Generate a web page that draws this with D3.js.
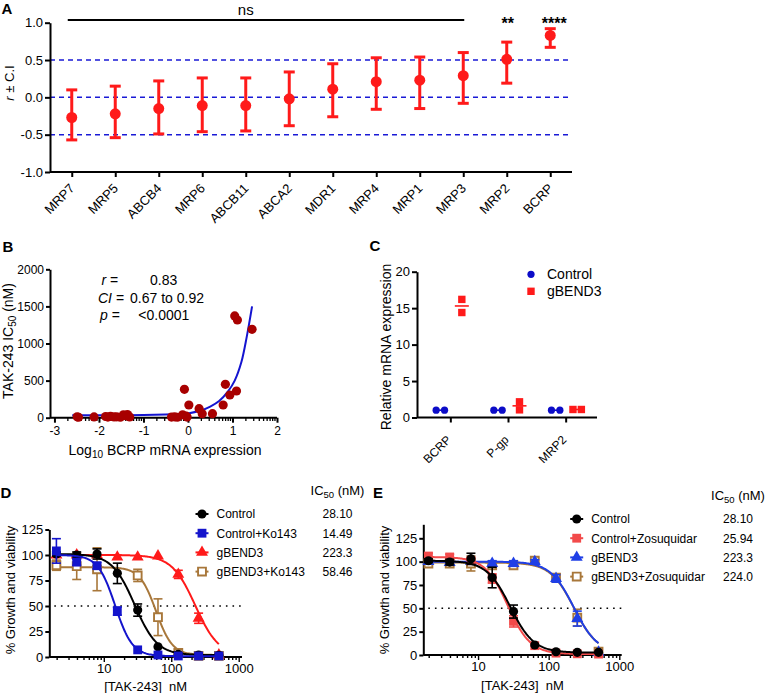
<!DOCTYPE html>
<html><head><meta charset="utf-8">
<script src="https://cdn.jsdelivr.net/npm/d3@7"></script>
<style>
body{margin:0;background:#fff}
svg{display:block}
text{font-family:Arial,"Liberation Sans",Helvetica,sans-serif}
</style>
</head><body>
<svg id="c" width="766" height="693"></svg>
<script>
// ================= DATA =================
// Panel A
const transporters = ["MRP7","MRP5","ABCB4","MRP6","ABCB11","ABCA2","MDR1","MRP4","MRP1","MRP3","MRP2","BCRP"];
const rValues = [-0.27,-0.22,-0.15,-0.11,-0.11,-0.02,0.11,0.21,0.23,0.29,0.51,0.83];
const ciLow   = [-0.57,-0.54,-0.49,-0.46,-0.45,-0.38,-0.26,-0.16,-0.15,-0.08,0.19,0.67];
const ciHigh  = [0.10,0.15,0.22,0.26,0.26,0.34,0.45,0.53,0.54,0.60,0.74,0.92];
const aTicks = [-1.0,-0.5,0.0,0.5,1.0];
const refLines = [-0.5,0.0,0.5];
const sigGenes = ["MRP2","BCRP"];
const sigText = ["**","****"];
const nsSpan = ["MRP7","MRP3"];

// Panel B
const bcrpLog10 = [-2.49,-2.46,-2.11,-1.85,-1.80,-1.74,-1.66,-1.60,-1.52,-1.45,-1.40,-1.36,-1.31,
  -0.37,-0.30,-0.24,-0.12,-0.08,-0.04,-0.02,0.02,0.25,0.32,0.55,0.79,0.84,0.94,1.05,1.09,1.11,1.44];
const tak243IC50 = [12,6,10,16,8,18,10,12,6,40,28,42,10,
  8,12,6,40,383,20,8,171,122,54,54,171,450,306,1371,360,1317,1191];
const fitLog10 = [-2.6,-2.0,-1.5,-1.0,-0.5,0.0,0.3,0.5,0.7,0.9,1.05,1.2,1.32,1.44];
const fitIC50  = [32,33,34,36,44,58,100,150,225,355,500,750,1090,1500];
const bYTicks = [0,500,1000,1500,2000];
const bXTicks = [-3,-2,-1,0,1,2];
const statNames = ["r =","CI =","p ="];
const statValues = ["0.83","0.67 to 0.92","<0.0001"];

// Panel C
const genes = ["BCRP","P-gp","MRP2"];
const cSeries = ["Control","gBEND3"];
const controlRep1 = [1.0,1.0,1.0];
const controlRep2 = [1.0,1.0,1.0];
const gbendRep1 = [16.2,2.15,1.1];
const gbendRep2 = [14.4,1.05,1.1];
const cYTicks = [0,5,10,15,20];

// Panels D & E  (concentration in nM, % growth and viability)
const conc = [1.95,3.9,7.8,15.6,31.25,62.5,125,250,500];
const pctTicks = [0,25,50,75,100,125];
const concTicks = [10,100,1000];

const dNames = ["Control","Control+Ko143","gBEND3","gBEND3+Ko143"];
const dIC50Text = ["28.10","14.49","223.3","58.46"];
const dControl      = [101,100,101,82,46,10,2.6,2,1.7];
const dControlErr   = [2,3,5,10,6,1,0.5,0.5,0.5];
const dKo143        = [104,93,89.5,45,7,2,1,1,1];
const dKo143Err     = [12,3,3,4,1,0.5,0.5,0.5,0.5];
const dGbend3       = [100,100,100,98,98,99,81,38,2];
const dGbend3Err    = [0.5,0.5,0.5,2,1,1,4,5,1];
const dGbendKo      = [90,89,86,null,80,39,4,1,1];
const dGbendKoErr   = [5,13,21,null,6,18,1,0.5,0.5];
// fitted 4-parameter curves: [top, bottom, IC50, hill]
const dFitTop    = [101,100,100,88];
const dFitBottom = [1.8,0.8,1,2];
const dFitIC50   = [28.10,14.49,223.3,58.46];
const dFitHill   = [2.6,3.4,2.5,3.6];

const eNames = ["Control","Control+Zosuquidar","gBEND3","gBEND3+Zosuquidar"];
const eIC50Text = ["28.10","25.94","223.3","224.0"];
const eControl      = [101,99.5,103,83,46.5,10.7,3.5,2.9,2.9];
const eControlErr   = [2,3,6,11,7,1,0.5,0.5,0.5];
const eZos          = [106,105,101,82,36,10,2,1.3,1];
const eZosErr       = [3,3,3,5,6,1,0.5,0.5,0.5];
const eGbend3       = [100,99,100,98,98,100,82,39,3];
const eGbend3Err    = [1,1,1,3,3,2,4,8,1];
const eGbendZos     = [98,98,98,96,96,101,83,40,3.6];
const eGbendZosErr  = [3,3,8,3,3,3,4,9,1];
const eFitTop    = [101,105,100,99];
const eFitBottom = [2.5,1,2,2];
const eFitIC50   = [28.10,25.94,223.3,224.0];
const eFitHill   = [2.6,2.7,2.6,2.6];

// ================= STYLES =================
const FONT = 'Arial, "Liberation Sans", Helvetica, sans-serif';
const RED = "#ff1a1a";
const dColors = ["#000000","#1414cc","#ff1a1a","#a8773a"];
const dShapes = ["circle","square","triangle","open"];
const eColors = ["#000000","#f24a4a","#1f3fe6","#a8773a"];
const eShapes = ["circle","square","triangle","open"];

// ================= DRAW =================
const svg = d3.select("#c");
svg.append("rect").attr("width",766).attr("height",693).attr("fill","#fff");

function styleAxis(g, sw, fs) {
  g.attr("font-family", FONT).attr("font-size", fs);
  g.select(".domain").attr("stroke","#000").attr("stroke-width",sw);
  g.selectAll(".tick line").attr("stroke","#000").attr("stroke-width",sw);
  g.selectAll(".tick text").attr("fill","#000");
}
function panelLabel(t, x, y) {
  svg.append("text").attr("x",x).attr("y",y).attr("font-size",15).attr("font-weight","bold")
    .attr("font-family",FONT).text(t);
}
function mark(g, shape, x, y, color) {
  const sym = {circle:d3.symbolCircle, square:d3.symbolSquare, triangle:d3.symbolTriangle, open:d3.symbolSquare}[shape];
  const size = {circle:66, square:78, triangle:62, open:62}[shape];
  const p = g.append("path").attr("d", d3.symbol(sym, size)())
    .attr("transform", `translate(${x},${y})`);
  if (shape === "open") p.attr("fill","#fff").attr("stroke",color).attr("stroke-width",1.9);
  else p.attr("fill",color);
}

// ---------- Panel A ----------
panelLabel("A", 1.5, 13.5);
const ax = d3.scalePoint().domain(transporters).range([50,572]).padding(0.5);
const ay = d3.scaleLinear().domain([-1,1]).range([172,22.7]);
const gA = svg.append("g");
refLines.forEach(v => {
  gA.append("line").attr("x1",50).attr("x2",572).attr("y1",ay(v)).attr("y2",ay(v))
    .attr("stroke","#1a1ad6").attr("stroke-width",1.5).attr("stroke-dasharray","5,4");
});
const axA = gA.append("g").attr("transform","translate(0,172)")
  .call(d3.axisBottom(ax).tickSize(5).tickSizeOuter(0));
styleAxis(axA, 2, 13);
axA.select(".domain").attr("d","M50,0H572");
axA.selectAll(".tick text").attr("y",0).attr("dy","0.35em").attr("text-anchor","end")
  .attr("transform","translate(0,14) rotate(-45)");
const ayA = gA.append("g").attr("transform","translate(50,0)")
  .call(d3.axisLeft(ay).tickValues(aTicks).tickFormat(d => d.toFixed(1)).tickSize(5).tickPadding(2).tickSizeOuter(0));
styleAxis(ayA, 2, 13);
transporters.forEach((t,i) => {
  const x = ax(t);
  gA.append("line").attr("x1",x).attr("x2",x).attr("y1",ay(ciLow[i])).attr("y2",ay(ciHigh[i]))
    .attr("stroke",RED).attr("stroke-width",3);
  [ciLow[i],ciHigh[i]].forEach(v => gA.append("line").attr("x1",x-5.5).attr("x2",x+5.5)
    .attr("y1",ay(v)).attr("y2",ay(v)).attr("stroke",RED).attr("stroke-width",3));
  gA.append("circle").attr("cx",x).attr("cy",ay(rValues[i])).attr("r",5.5).attr("fill",RED);
});
gA.append("line").attr("x1",ax(nsSpan[0])-4).attr("x2",ax(nsSpan[1])+1).attr("y1",20).attr("y2",20)
  .attr("stroke","#000").attr("stroke-width",2);
gA.append("text").attr("x",ax("ABCB11")).attr("y",15).attr("text-anchor","middle")
  .attr("font-size",15).text("ns");
sigGenes.forEach((g,i) => {
  gA.append("text").attr("x",ax(g)+(i?4:1)).attr("y",29).attr("text-anchor","middle")
    .attr("font-size",16).attr("font-weight","bold").text(sigText[i]);
});
const aYl = gA.append("text").attr("transform","translate(13.5,83) rotate(-90)").attr("text-anchor","middle")
  .attr("font-size",13);
aYl.append("tspan").attr("font-style","italic").text("r");
aYl.append("tspan").text(" \u00B1 C.I");

// ---------- Panel B ----------
panelLabel("B", 2.5, 251.5);
const bx = d3.scaleLinear().domain([-3.1,2]).range([50,277]);
const by = d3.scaleLinear().domain([0,2000]).range([417.7,269.3]);
const gB = svg.append("g");
const bxa = gB.append("g").attr("transform","translate(0,417.7)")
  .call(d3.axisBottom(bx).tickValues(bXTicks).tickFormat(d => String(d)).tickSize(5).tickPadding(4).tickSizeOuter(0));
styleAxis(bxa, 2, 12);
bxa.select(".domain").attr("d","M50,0H277");
// log-style minor ticks between integer majors
bXTicks.slice(0,-1).forEach(m => d3.range(2,10).forEach(k => {
  const v = m + Math.log10(k);
  gB.append("line").attr("x1",bx(v)).attr("x2",bx(v)).attr("y1",417.7).attr("y2",421)
    .attr("stroke","#000").attr("stroke-width",1.3);
}));
const bya = gB.append("g").attr("transform","translate(50,0)")
  .call(d3.axisLeft(by).tickValues(bYTicks).tickFormat(d => String(d)).tickSize(4).tickPadding(2).tickSizeOuter(0));
styleAxis(bya, 2, 12);
gB.append("path").datum(fitLog10.map((x,i)=>[x,fitIC50[i]]))
  .attr("d", d3.line().x(d=>bx(d[0])).y(d=>by(d[1])).curve(d3.curveCatmullRom.alpha(0.5)))
  .attr("fill","none").attr("stroke","#1414d0").attr("stroke-width",2);
bcrpLog10.forEach((x,i) => gB.append("circle").attr("cx",bx(x)).attr("cy",by(tak243IC50[i]))
  .attr("r",4.6).attr("fill","#a80000"));
const statNameX = [101.5,98,100];
const statValX = [150,130,138.3];
statNames.forEach((n,i) => {
  const y = 285 + i*17.5;
  const t = gB.append("text").attr("x",statNameX[i]).attr("y",y).attr("font-size",14);
  const parts = n.split(" ");
  t.append("tspan").attr("font-style","italic").text(parts[0]);
  t.append("tspan").text(" " + parts.slice(1).join(" "));
  gB.append("text").attr("x",statValX[i]).attr("y",y).attr("font-size",14).text(statValues[i]);
});
const bYl = gB.append("text").attr("transform","translate(13,341) rotate(-90)").attr("text-anchor","middle")
  .attr("font-size",14);
bYl.append("tspan").text("TAK-243 IC");
bYl.append("tspan").attr("font-size",10).attr("dy",3).text("50");
bYl.append("tspan").attr("dy",-3).text(" (nM)");
const bXl = gB.append("text").attr("x",165).attr("y",455).attr("text-anchor","middle").attr("font-size",14);
bXl.append("tspan").text("Log");
bXl.append("tspan").attr("font-size",10).attr("dy",3).text("10");
bXl.append("tspan").attr("dy",-3).text(" BCRP mRNA expression");

// ---------- Panel C ----------
panelLabel("C", 369.5, 250.5);
const cx = d3.scaleBand().domain(genes).range([422,595]);
const cy = d3.scaleLinear().domain([0,20]).range([417.5,271.7]);
const gC = svg.append("g");
const cxa = gC.append("g").attr("transform","translate(0,417.5)")
  .call(d3.axisBottom(cx).tickSize(5).tickSizeOuter(0));
styleAxis(cxa, 2, 12);
cxa.select(".domain").attr("d","M417,0H597");
cxa.selectAll(".tick text").attr("y",0).attr("dy","0.35em").attr("text-anchor","end")
  .attr("transform","translate(-2,20) rotate(-45)");
const cya = gC.append("g").attr("transform","translate(417,0)")
  .call(d3.axisLeft(cy).tickValues(cYTicks).tickSize(5).tickPadding(2).tickSizeOuter(0));
styleAxis(cya, 2, 13);
const cColors = ["#0c0cc8","#ff1a1a"];
const cReps = [[controlRep1,controlRep2],[gbendRep1,gbendRep2]];
const cOff = [-10.5, 11];
genes.forEach((gname,gi) => {
  cReps.forEach((reps,si) => {
    const xc = cx(gname) + cx.bandwidth()/2 + cOff[si];
    const v1 = reps[0][gi], v2 = reps[1][gi];
    const mean = (v1+v2)/2;
    const spread = Math.abs(cy(v1)-cy(v2)) < 7 ? 4.2 : 0;
    gC.append("line").attr("x1",xc-7).attr("x2",xc+7).attr("y1",cy(mean)).attr("y2",cy(mean))
      .attr("stroke",cColors[si]).attr("stroke-width",1.6);
    [[v1,-spread],[v2,spread]].forEach(([v,o]) => {
      if (si===0) gC.append("circle").attr("cx",xc+o).attr("cy",cy(v)).attr("r",3.6).attr("fill",cColors[si]);
      else gC.append("rect").attr("x",xc+o-3.7).attr("y",cy(v)-3.7).attr("width",7.4).attr("height",7.4).attr("fill",cColors[si]);
    });
  });
});
gC.append("circle").attr("cx",531).attr("cy",274.3).attr("r",3.6).attr("fill",cColors[0]);
gC.append("rect").attr("x",531-3.7).attr("y",291.3-3.7).attr("width",7.4).attr("height",7.4).attr("fill",cColors[1]);
cSeries.forEach((s,i) => gC.append("text").attr("x",547).attr("y",279.3+i*17).attr("font-size",14).text(s));
gC.append("text").attr("transform","translate(391,347) rotate(-90)").attr("text-anchor","middle")
  .attr("font-size",14).text("Relative mRNA expression");

// ---------- Panels D & E ----------
function fourPL(x, top, bottom, ic50, hill) {
  return bottom + (top - bottom) / (1 + Math.pow(x / ic50, hill));
}
function doseResponse(cfg) {
  const g = svg.append("g");
  const x = d3.scaleLog().domain(cfg.xDomain).range(cfg.xRange);
  const y = d3.scaleLinear().domain(cfg.yDomain).range(cfg.yRange);
  const y0 = cfg.yRange[0];
  const ya = g.append("g").attr("transform",`translate(${cfg.xRange[0]},0)`)
    .call(d3.axisLeft(y).tickValues(pctTicks).tickSize(4).tickPadding(2).tickSizeOuter(0));
  styleAxis(ya, 2, 13);
  g.append("line").attr("x1",cfg.xRange[0]).attr("x2",cfg.xRange[1]).attr("y1",y0).attr("y2",y0)
    .attr("stroke","#000").attr("stroke-width",2);
  const lo = cfg.xDomain[0], hi = cfg.xDomain[1];
  [1,10,100,1000].forEach(dec => d3.range(1,10).forEach(k => {
    const v = k*dec;
    if (v < lo || v > hi) return;
    const major = k === 1;
    g.append("line").attr("x1",x(v)).attr("x2",x(v)).attr("y1",y0).attr("y2",y0+(major?5:3))
      .attr("stroke","#000").attr("stroke-width",1.4);
  }));
  concTicks.forEach(v => g.append("text").attr("x",x(v)).attr("y",y0+16).attr("text-anchor","middle")
    .attr("font-size",13).text(v));
  g.append("line").attr("x1",cfg.xRange[0]+5).attr("x2",cfg.xRange[1]).attr("y1",y(50)).attr("y2",y(50))
    .attr("stroke","#000").attr("stroke-width",1.6).attr("stroke-dasharray","1.6,5");
  cfg.order.forEach(si => {
    const col = cfg.colors[si];
    const vals = cfg.values[si], errs = cfg.errors[si];
    const xs = d3.range(0,161).map(i => conc[0]*Math.pow(conc[conc.length-1]/conc[0], i/160));
    const f = cfg.fits[si];
    g.append("path").datum(xs).attr("d", d3.line().x(d=>x(d)).y(d=>y(fourPL(d,f[0],f[1],f[2],f[3]))))
      .attr("fill","none").attr("stroke",col).attr("stroke-width",2);
    conc.forEach((c,i) => {
      if (vals[i] == null || errs[i] < 1.5) return;
      const xx = x(c);
      g.append("line").attr("x1",xx).attr("x2",xx).attr("y1",y(vals[i]-errs[i])).attr("y2",y(vals[i]+errs[i]))
        .attr("stroke",col).attr("stroke-width",1.6);
      [vals[i]-errs[i], vals[i]+errs[i]].forEach(v => g.append("line").attr("x1",xx-4.5).attr("x2",xx+4.5)
        .attr("y1",y(v)).attr("y2",y(v)).attr("stroke",col).attr("stroke-width",1.6));
    });
    conc.forEach((c,i) => { if (vals[i] != null) mark(g, cfg.shapes[si], x(c), y(vals[i]), col); });
  });
  cfg.names.forEach((n,i) => {
    const yy = cfg.legY + i*cfg.legStep;
    g.append("line").attr("x1",cfg.legX-6.5).attr("x2",cfg.legX+6.5).attr("y1",yy).attr("y2",yy)
      .attr("stroke",cfg.colors[i]).attr("stroke-width",2);
    mark(g, cfg.shapes[i], cfg.legX, yy, cfg.colors[i]);
    g.append("text").attr("x",cfg.legX+14.5).attr("y",yy+4.3).attr("font-size",12).text(n);
    g.append("text").attr("x",cfg.valX).attr("y",yy+4.3).attr("font-size",12).attr("text-anchor","middle")
      .text(cfg.ic50Text[i]);
  });
  const h = g.append("text").attr("x",cfg.valX).attr("y",cfg.legY-19.5).attr("text-anchor","middle").attr("font-size",13);
  h.append("tspan").text("IC");
  h.append("tspan").attr("font-size",9.5).attr("dy",3).text("50");
  h.append("tspan").attr("dy",-3).text(" (nM)");
  g.append("text").attr("x",(cfg.xRange[0]+cfg.xRange[1])/2).attr("y",cfg.xTitleY).attr("text-anchor","middle")
    .attr("font-size",13).style("white-space","pre").text("[TAK-243]  nM");
  g.append("text").attr("transform",`translate(${cfg.yTitleX},590) rotate(-90)`).attr("text-anchor","middle")
    .attr("font-size",13).text("% Growth and viability");
}

panelLabel("D", 0.5, 498);
doseResponse({
  xDomain:[1.53,1100], xRange:[49.3,242], yDomain:[0,125], yRange:[657,529.5],
  names:dNames, ic50Text:dIC50Text, colors:dColors, shapes:dShapes,
  values:[dControl,dKo143,dGbend3,dGbendKo], errors:[dControlErr,dKo143Err,dGbend3Err,dGbendKoErr],
  fits:[0,1,2,3].map(i=>[dFitTop[i],dFitBottom[i],dFitIC50[i],dFitHill[i]]),
  order:[2,3,0,1], legX:202, legY:514, legStep:19.2, valX:337.5, xTitleY:691, yTitleX:14.5
});
panelLabel("E", 373, 497.5);
doseResponse({
  xDomain:[1.65,1064], xRange:[423.3,621.7], yDomain:[0,140], yRange:[655,524.3],
  names:eNames, ic50Text:eIC50Text, colors:eColors, shapes:eShapes,
  values:[eControl,eZos,eGbend3,eGbendZos], errors:[eControlErr,eZosErr,eGbend3Err,eGbendZosErr],
  fits:[0,1,2,3].map(i=>[eFitTop[i],eFitBottom[i],eFitIC50[i],eFitHill[i]]),
  order:[3,2,1,0], legX:576.7, legY:519, legStep:19.2, valX:738, xTitleY:690, yTitleX:388.5
});
</script>
</body></html>
